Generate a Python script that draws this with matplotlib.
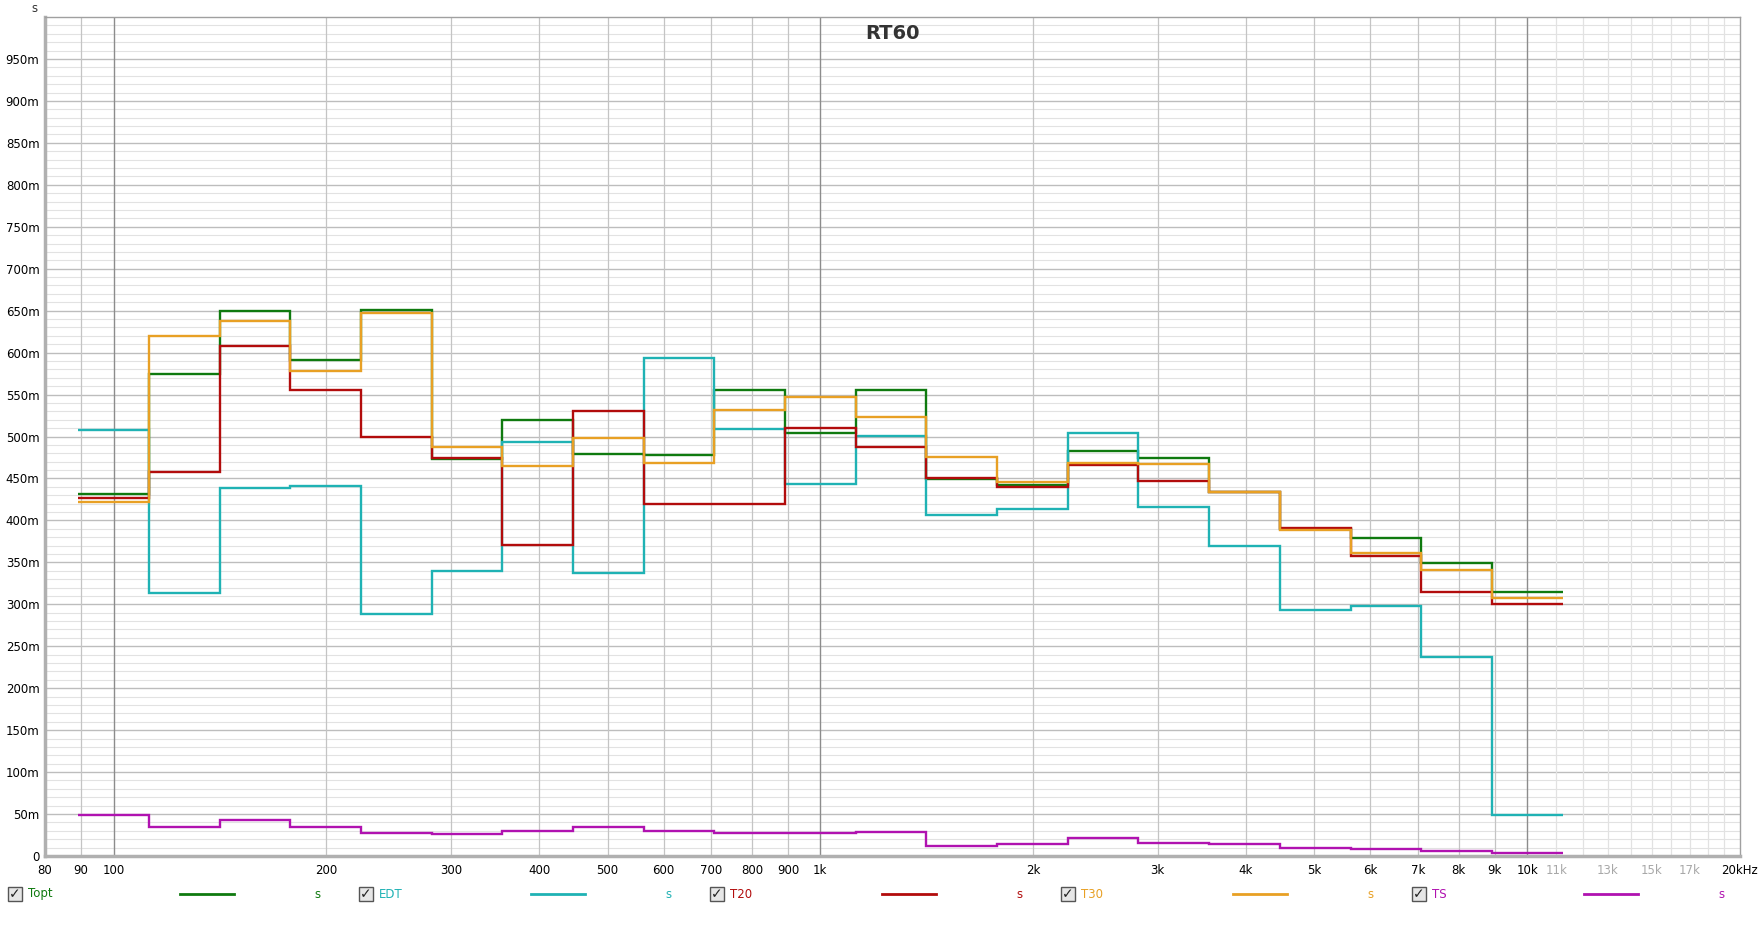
import numpy as np
import matplotlib
matplotlib.use("Agg")
import matplotlib.pyplot as plt
from matplotlib.patches import Rectangle
from matplotlib.lines import Line2D

# 1/3-octave band centres (Hz), 100 Hz .. 10 kHz
bands = [100, 125, 160, 200, 250, 315, 400, 500, 630, 800, 1000,
         1250, 1600, 2000, 2500, 3150, 4000, 5000, 6300, 8000, 10000]

# RT values in seconds
topt = [0.432, 0.575, 0.650, 0.591, 0.651, 0.473, 0.520, 0.479, 0.478, 0.556, 0.504,
        0.556, 0.449, 0.442, 0.483, 0.474, 0.434, 0.390, 0.379, 0.349, 0.315]
edt = [0.508, 0.313, 0.439, 0.441, 0.288, 0.340, 0.494, 0.337, 0.594, 0.509, 0.443,
       0.501, 0.406, 0.413, 0.504, 0.416, 0.370, 0.293, 0.298, 0.237, 0.049]
t20 = [0.427, 0.458, 0.608, 0.555, 0.499, 0.474, 0.371, 0.530, 0.420, 0.419, 0.510,
       0.488, 0.450, 0.440, 0.466, 0.447, 0.434, 0.391, 0.358, 0.315, 0.300]
t30 = [0.422, 0.620, 0.638, 0.578, 0.647, 0.487, 0.465, 0.498, 0.469, 0.532, 0.547,
       0.523, 0.475, 0.446, 0.469, 0.467, 0.434, 0.389, 0.361, 0.341, 0.307]
ts = [0.049, 0.034, 0.043, 0.034, 0.028, 0.026, 0.030, 0.035, 0.030, 0.027, 0.028,
      0.029, 0.012, 0.014, 0.022, 0.015, 0.014, 0.010, 0.008, 0.006, 0.004]

series_names = ["Topt", "EDT", "T20", "T30", "TS"]
series_vals = [topt, edt, t20, t30, ts]
colors = ["#0f7a0f", "#1fb2b4", "#b20c0c", "#e8a024", "#b012b0"]

x_ticks = [80, 90, 100, 200, 300, 400, 500, 600, 700, 800, 900, 1000,
           2000, 3000, 4000, 5000, 6000, 7000, 8000, 9000, 10000, 11000,
           13000, 15000, 17000, 20000]
x_labels = ["80", "90", "100", "200", "300", "400", "500", "600", "700", "800", "900", "1k",
            "2k", "3k", "4k", "5k", "6k", "7k", "8k", "9k", "10k", "11k",
            "13k", "15k", "17k", "20kHz"]
grey_labels = {"11k", "13k", "15k", "17k"}

# band edges: exact 1/3-octave (base 10) boundaries
edges = 10 ** ((np.arange(len(bands) + 1) + 19.5) / 10)

W, H = 1761, 932
fig = plt.figure(figsize=(W / 100, H / 100), dpi=100)
ax = fig.add_axes([45 / W, 1 - 856 / H, (1740 - 45) / W, (856 - 17) / H])
ax.set_xscale("log")
ax.set_xlim(80, 20000)
ax.set_ylim(0, 1.0)

# --- grid ---
for v in np.arange(0.01, 1.0, 0.01):
    major = abs(v * 20 - round(v * 20)) < 1e-6
    ax.axhline(v, color="#bdbdbd" if major else "#e2e2e2", lw=1.0 if major else 0.8, zorder=0)
vlines = [90] + list(range(200, 1000, 100)) + list(range(2000, 10000, 1000))
for f in vlines:
    ax.axvline(f, color="#c4c4c4", lw=0.9, zorder=0)
for f in range(11000, 20000, 1000):
    ax.axvline(f, color="#e2e2e2", lw=0.9, zorder=0)
for f in [100, 1000, 10000]:
    ax.axvline(f, color="#8c8c8c", lw=1.0, zorder=0)

# --- data ---
for vals, c in zip(series_vals, colors):
    ax.stairs(vals, edges, baseline=None, color=c, lw=1.7, zorder=3)

# --- axes styling ---
yt = np.arange(0, 0.951, 0.05)
ax.set_yticks(yt)
ax.set_yticklabels(["0"] + [f"{int(round(v * 1000))}m" for v in yt[1:]], fontsize=8.5)
ax.set_xticks(x_ticks)
ax.set_xticklabels(x_labels, fontsize=8.5)
ax.minorticks_off()
for lbl in ax.get_xticklabels():
    if lbl.get_text() in grey_labels:
        lbl.set_color("#a8a8a8")
ax.tick_params(axis="both", length=0, pad=6)
ax.tick_params(axis="y", pad=4)
for s in ["top", "right"]:
    ax.spines[s].set_color("#a0a0a0")
    ax.spines[s].set_linewidth(1.0)
for s in ["left", "bottom"]:
    ax.spines[s].set_color("#b0b0b0")
    ax.spines[s].set_linewidth(2.5)

ax.text(0.5, 0.992, "RT60", transform=ax.transAxes, ha="center", va="top",
        fontsize=14, fontweight="bold", color="#333333")
fig.text(34 / W, 1 - 8 / H, "s", ha="center", va="center", fontsize=8.5, color="#333333")

# --- legend row ---
ly = 1 - 894 / H
step = 351
for i, (name, c) in enumerate(zip(series_names, colors)):
    x0 = 8 + i * step
    box = Rectangle((x0 / W, ly - 7 / H), 14 / W, 14 / H, transform=fig.transFigure,
                    facecolor="#e6e6e6", edgecolor="#555555", lw=1.0)
    fig.patches.append(box)
    fig.text((x0 + 7) / W, ly, "\u2713", ha="center", va="center", fontsize=10,
             color="#222222", fontweight="bold")
    fig.text((x0 + 20) / W, ly, name, ha="left", va="center", fontsize=8.5, color=c)
    fig.add_artist(Line2D([(x0 + 172) / W, (x0 + 226) / W], [ly, ly],
                          transform=fig.transFigure, color=c, lw=2.0))
    fig.text((x0 + 309) / W, ly, "s", ha="center", va="center", fontsize=8.5, color=c)

fig.savefig("out.png", dpi=100)
